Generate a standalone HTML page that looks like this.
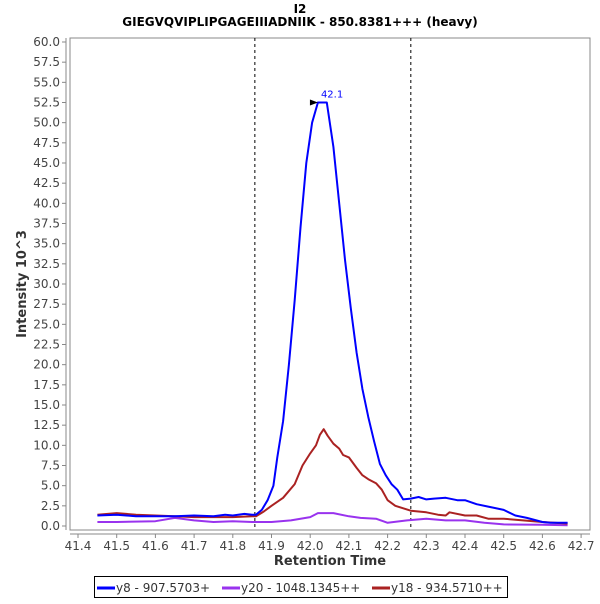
<!DOCTYPE html>
<html><head><meta charset="utf-8"><style>
body{margin:0;background:#fff;width:600px;height:600px;overflow:hidden;font-family:"DejaVu Sans","Liberation Sans",sans-serif}
</style></head><body>
<svg width="600" height="600" font-family="DejaVu Sans, Liberation Sans, sans-serif">
<text x="300" y="13" text-anchor="middle" font-size="12" font-weight="bold">I2</text>
<text x="300" y="26" text-anchor="middle" font-size="12" font-weight="bold">GIEGVQVIPLIPGAGEIIIADNIIK - 850.8381+++ (heavy)</text>
<rect x="70" y="38" width="520" height="492" fill="#fff" stroke="#888"/>
<g id="yaxis"></g>
<g id="xaxis"></g>
<g id="series"></g>
<text transform="translate(26,284) rotate(-90)" text-anchor="middle" font-size="13" font-weight="bold" fill="#333">Intensity 10^3</text>
<text x="330" y="565" text-anchor="middle" font-size="13" font-weight="bold" fill="#333">Retention Time</text>
<g>
<rect x="94.5" y="576.5" width="413" height="21" fill="#fff" stroke="#000"/>
<line x1="97" y1="588" x2="115" y2="588" stroke="#0000ff" stroke-width="3"/>
<text x="116" y="592" font-size="12" fill="#333">y8 - 907.5703+</text>
<line x1="222" y1="588" x2="240" y2="588" stroke="#9933ee" stroke-width="3"/>
<text x="241" y="592" font-size="12" fill="#333">y20 - 1048.1345++</text>
<line x1="372" y1="588" x2="390" y2="588" stroke="#aa2222" stroke-width="3"/>
<text x="391" y="592" font-size="12" fill="#333">y18 - 934.5710++</text>
</g>
</svg>
<script>
const yTicks=[0,2.5,5,7.5,10,12.5,15,17.5,20,22.5,25,27.5,30,32.5,35,37.5,40,42.5,45,47.5,50,52.5,55,57.5,60];
const xTicks=[41.4,41.5,41.6,41.7,41.8,41.9,42.0,42.1,42.2,42.3,42.4,42.5,42.6,42.7];
const boundaries=[41.857,42.26];
const y8T=[41.45,41.5,41.55,41.6,41.65,41.7,41.75,41.78,41.8,41.83,41.85,41.86,41.875,41.89,41.905,41.915,41.93,41.945,41.96,41.975,41.99,42.005,42.02,42.043,42.06,42.075,42.09,42.105,42.12,42.135,42.15,42.165,42.18,42.195,42.21,42.225,42.24,42.26,42.28,42.3,42.32,42.35,42.38,42.4,42.43,42.46,42.5,42.53,42.56,42.6,42.62,42.665];
const y8V=[1.3,1.4,1.2,1.2,1.2,1.3,1.2,1.4,1.3,1.5,1.4,1.4,2.0,3.2,5,8.5,13,20,28,37,45,50,52.5,52.5,47,40,33,27,21.5,17,13.5,10.5,7.7,6.3,5.2,4.5,3.3,3.4,3.6,3.3,3.4,3.5,3.2,3.2,2.7,2.4,2.0,1.3,1.0,0.5,0.4,0.4];
const y20T=[41.45,41.5,41.6,41.65,41.7,41.75,41.8,41.85,41.9,41.95,42.0,42.02,42.06,42.1,42.13,42.17,42.2,42.25,42.3,42.35,42.4,42.45,42.5,42.6,42.665];
const y20V=[0.5,0.5,0.6,1.0,0.7,0.5,0.6,0.5,0.5,0.7,1.1,1.6,1.6,1.2,1.0,0.9,0.4,0.7,0.9,0.7,0.7,0.4,0.2,0.15,0.1];
const y18T=[41.45,41.5,41.55,41.6,41.65,41.7,41.75,41.8,41.85,41.86,41.88,41.9,41.93,41.96,41.98,42.0,42.015,42.025,42.035,42.045,42.06,42.075,42.085,42.1,42.12,42.135,42.15,42.17,42.185,42.2,42.22,42.26,42.3,42.33,42.35,42.36,42.4,42.43,42.46,42.5,42.55,42.6,42.665];
const y18V=[1.4,1.6,1.4,1.3,1.2,1.1,1.1,1.1,1.2,1.2,1.8,2.5,3.5,5.2,7.5,9,10,11.3,12.0,11.2,10.2,9.6,8.8,8.5,7.2,6.3,5.8,5.3,4.5,3.2,2.5,1.9,1.7,1.4,1.3,1.7,1.3,1.3,0.9,0.9,0.7,0.5,0.3];
const peakLabel="42.1";
const NS="http://www.w3.org/2000/svg";
const X=t=>78+(t-41.4)*387;
const Y=v=>526-v*(484/60);
function mk(tag,attrs,parent,txt){const e=document.createElementNS(NS,tag);for(const k in attrs)e.setAttribute(k,attrs[k]);if(txt!==undefined)e.textContent=txt;parent.appendChild(e);return e;}
const ya=document.getElementById('yaxis'),xa=document.getElementById('xaxis'),sg=document.getElementById('series');
mk('line',{x1:66,y1:38,x2:66,y2:530,stroke:'#888'},ya);
yTicks.forEach(v=>{mk('line',{x1:62,y1:Y(v),x2:66,y2:Y(v),stroke:'#888'},ya);
const t=mk('text',{x:60,y:Y(v)+4,'text-anchor':'end','font-size':12,fill:'#444'},ya,v.toFixed(1));

});
mk('line',{x1:70,y1:534,x2:590,y2:534,stroke:'#888'},xa);
xTicks.forEach(v=>{mk('line',{x1:X(v),y1:534,x2:X(v),y2:538,stroke:'#888'},xa);
const t=mk('text',{x:X(v),y:550,'text-anchor':'middle','font-size':12,fill:'#444'},xa,v.toFixed(1));

});
boundaries.forEach(b=>{const l=mk('line',{x1:X(b),y1:38,x2:X(b),y2:530,stroke:'#000','stroke-dasharray':'3,3'},sg);

});
function line(T,V,col,name){const p=mk('polyline',{points:T.map((t,i)=>X(t).toFixed(1)+','+Y(V[i]).toFixed(1)).join(' '),fill:'none',stroke:col,'stroke-width':2,'stroke-linejoin':'round'},sg);

}
line(y20T,y20V,'#9933ee','series-y20');
line(y18T,y18V,'#aa2222','series-y18');
line(y8T,y8V,'#0000ff','series-y8');
let mi=0;y8V.forEach((v,i)=>{if(v>y8V[mi])mi=i;});
const px=X(y8T[mi]),py=Y(y8V[mi]);
const ar=mk('polygon',{points:`${px},${py} ${px-8},${py-3} ${px-8},${py+3}`,fill:'#000'},sg);


const pl=mk('text',{x:px+3,y:py-5,'font-size':10,fill:'#0000ff'},sg,peakLabel);


</script>
</body></html>
